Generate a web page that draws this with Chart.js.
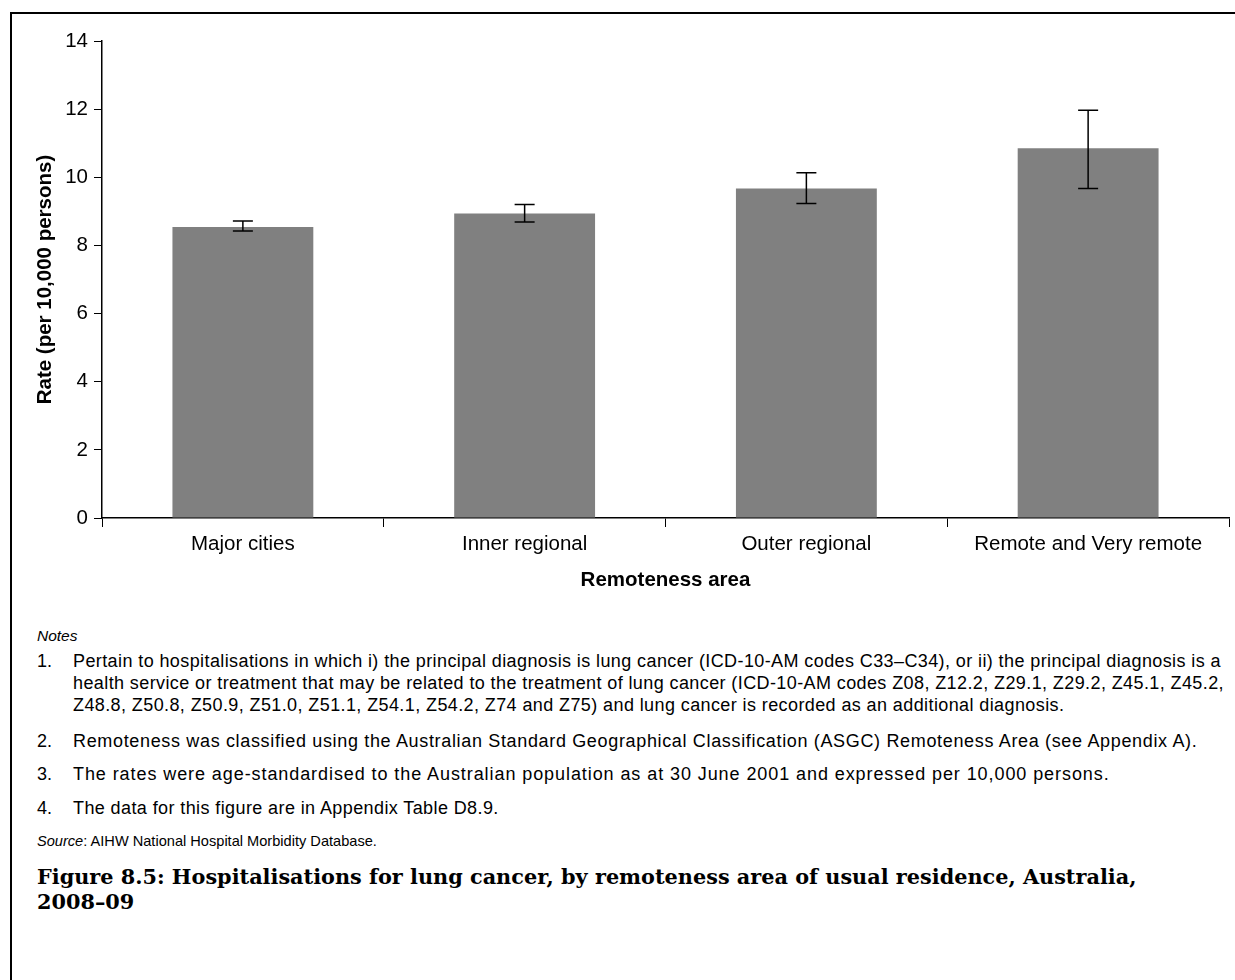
<!DOCTYPE html>
<html>
<head>
<meta charset="utf-8">
<title>Hospitalisations for lung cancer by remoteness area</title>
<script src="https://cdn.jsdelivr.net/npm/chart.js@4"></script>
<style>
  body { margin: 0; background: #fff; font-family: "Liberation Sans", Arial, sans-serif; color: #000; }
  #page { position: relative; width: 1235px; height: 980px; overflow: hidden; }
  #frame { position: absolute; left: 10px; top: 12px; width: 1400px; height: 1100px; border-left: 2px solid #000; border-top: 2px solid #000; }
  #chartBox { position: absolute; left: 0; top: 0; width: 1235px; height: 600px; }
  .note { position: absolute; left: 37px; font-size: 18px; letter-spacing: 0.4px; white-space: nowrap; line-height: 22px; }
  .note .num { position: absolute; left: 0; letter-spacing: 0; }
  .note .txt { position: absolute; left: 36px; }
  .small { font-size: 15.5px; letter-spacing: 0; }
  .title { position: absolute; left: 37px; font-family: "DejaVu Serif", "Liberation Serif", serif; font-weight: bold; font-size: 20.8px; line-height: 25px; white-space: nowrap; }
</style>
</head>
<body>
<div id="page">
  <div id="frame"></div>
  <div id="chartBox"><canvas id="chart" width="1235" height="600"></canvas></div>

  <div class="note small" style="top:625px;"><i>Notes</i></div>
  <div class="note" style="top:650px;"><span class="num">1.</span><span class="txt">Pertain to hospitalisations in which i) the principal diagnosis is lung cancer (ICD-10-AM codes C33–C34), or ii) the principal diagnosis is a<br>health service or treatment that may be related to the treatment of lung cancer (ICD-10-AM codes Z08, Z12.2, Z29.1, Z29.2, Z45.1, Z45.2,<br>Z48.8, Z50.8, Z50.9, Z51.0, Z51.1, Z54.1, Z54.2, Z74 and Z75) and lung cancer is recorded as an additional diagnosis.</span></div>
  <div class="note" style="top:730px;"><span class="num">2.</span><span class="txt" style="letter-spacing:0.66px;">Remoteness was classified using the Australian Standard Geographical Classification (ASGC) Remoteness Area (see Appendix A).</span></div>
  <div class="note" style="top:763px;"><span class="num">3.</span><span class="txt" style="letter-spacing:0.92px;">The rates were age-standardised to the Australian population as at 30 June 2001 and expressed per 10,000 persons.</span></div>
  <div class="note" style="top:797px;"><span class="num">4.</span><span class="txt">The data for this figure are in Appendix Table D8.9.</span></div>
  <div class="note small" style="top:830px; font-size:14.6px;"><i>Source</i>: AIHW National Hospital Morbidity Database.</div>

  <div class="title" style="top:864px;">Figure 8.5: Hospitalisations for lung cancer, by remoteness area of usual residence, Australia,<br>2008–09</div>
</div>

<script>
'use strict'

// Age-standardised rates per 10,000 persons, with 95% confidence limits
let categories = ['Major cities', 'Inner regional', 'Outer regional', 'Remote and Very remote'];
let rates = [8.54, 8.94, 9.67, 10.85];
let lowerCI = [8.42, 8.69, 9.23, 9.67];
let upperCI = [8.72, 9.20, 10.13, 11.97];
let yTicks = [0, 2, 4, 6, 8, 10, 12, 14];

// Draws the confidence interval whiskers on top of each bar
let errorBars = {
  id: 'errorBars',
  afterDatasetsDraw(chart) {
    let ctx = chart.ctx;
    let meta = chart.getDatasetMeta(0);
    let y = chart.scales.y;
    ctx.save();
    ctx.strokeStyle = '#000';
    ctx.lineWidth = 1.5;
    for (let i = 0; i < meta.data.length; i++) {
      let x = meta.data[i].x;
      let top = y.getPixelForValue(upperCI[i]);
      let bottom = y.getPixelForValue(lowerCI[i]);
      ctx.beginPath();
      ctx.moveTo(x, top);
      ctx.lineTo(x, bottom);
      ctx.moveTo(x - 10, top);
      ctx.lineTo(x + 10, top);
      ctx.moveTo(x - 10, bottom);
      ctx.lineTo(x + 10, bottom);
      ctx.stroke();
    }
    ctx.restore();
  }
};

let font = { family: '"Liberation Sans", Arial, sans-serif', size: 20.5 };
let boldFont = { family: '"Liberation Sans", Arial, sans-serif', size: 20.5, weight: 'bold' };

const config = {
  type: 'bar',
  data: {
    labels: categories,
    datasets: [{
      data: rates,
      backgroundColor: '#808080',
      barPercentage: 0.5,
      categoryPercentage: 1.0
    }]
  },
  options: {
    responsive: false,
    animation: false,
    layout: { padding: { top: 41, right: 6, left: 29, bottom: 0 } },
    plugins: { legend: { display: false }, tooltip: { enabled: false } },
    scales: {
      x: {
        grid: { drawOnChartArea: false, drawTicks: true, tickLength: 9, color: '#000', offset: true },
        border: { display: true, color: '#000', width: 1.5 },
        ticks: { color: '#000', font: font, padding: 5 },
        title: { display: true, text: 'Remoteness area', color: '#000', font: boldFont, padding: { top: 0, bottom: 7 } },
        afterFit: function (scale) { scale.height = 82; }
      },
      y: {
        min: 0,
        max: 14,
        afterBuildTicks: function (scale) { scale.ticks = yTicks.map(v => ({ value: v })); },
        grid: { drawOnChartArea: false, drawTicks: true, tickLength: 8, color: '#000' },
        border: { display: true, color: '#000', width: 1.5 },
        ticks: { color: '#000', font: font, padding: 6 },
        title: { display: true, text: 'Rate (per 10,000 persons)', color: '#000', font: boldFont, padding: { top: 4, bottom: 0 } },
        afterFit: function (scale) { scale.width = 73; }
      }
    }
  },
  plugins: [errorBars]
};

const myChart = new Chart(document.getElementById('chart'), config);
</script>
</body>
</html>
